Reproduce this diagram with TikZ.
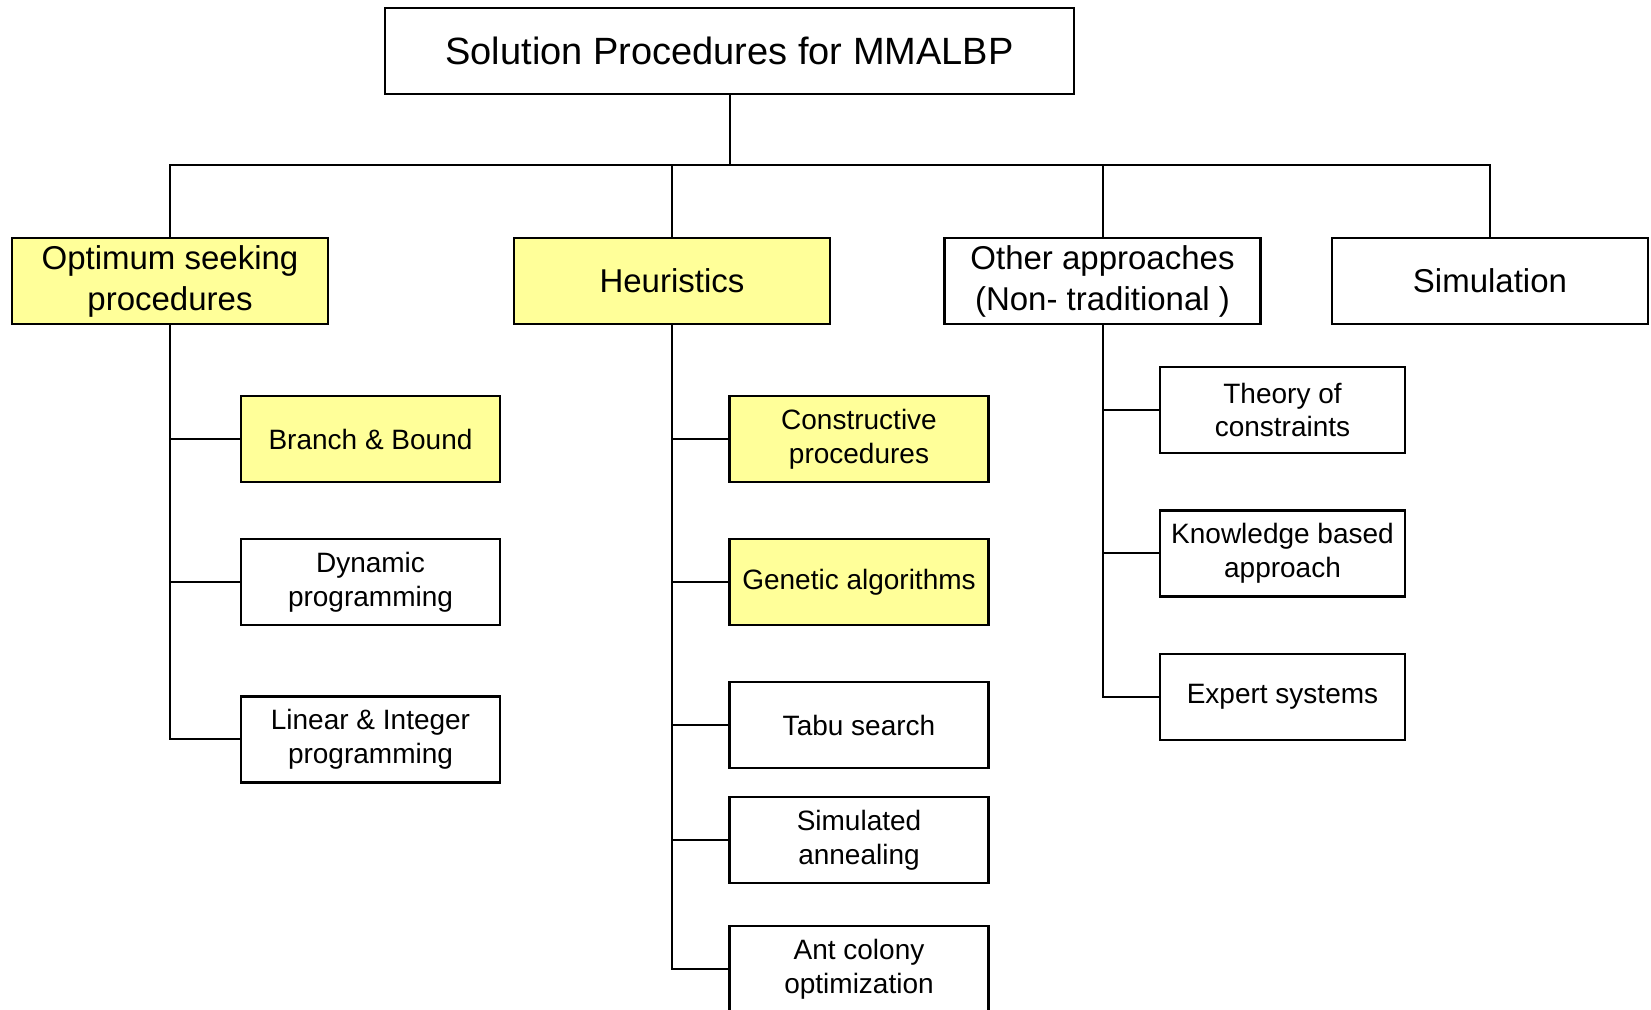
\documentclass[tikz,border=0pt]{standalone}
\usepackage{fontspec}
\setmainfont{Liberation Sans}
\definecolor{boxyellow}{RGB}{255,255,153}
\begin{document}
\begin{tikzpicture}[x=0.5pt,y=-0.5pt,
  box/.style={draw=black,line width=1.1pt,fill=white,rectangle,inner sep=0pt,align=center,text=black},
  rootbox/.style={box,minimum width=344.5pt,minimum height=43pt,font=\fontsize{19}{23}\selectfont},
  topbox/.style={box,minimum width=158pt,minimum height=43pt,font=\fontsize{16.5}{20.5}\selectfont},
  subbox/.style={box,minimum width=129.5pt,minimum height=43pt,font=\fontsize{14}{16.9}\selectfont},
  othbox/.style={box,minimum width=122.5pt,minimum height=43pt,font=\fontsize{14}{16.9}\selectfont},
  hl/.style={fill=boxyellow},
  link/.style={draw=black,line width=1pt}]
\useasboundingbox (0,0) rectangle (1651,1010);
\clip (0,0) rectangle (1651,1010);
\fill[white] (0,0) rectangle (1651,1010);

% root
\node[rootbox] (root) at (729.5,51) {Solution Procedures for MMALBP};

% first level
\node[topbox,hl] (opt) at (170,281) {Optimum seeking\\procedures};
\node[topbox,hl] (heur) at (672,281) {Heuristics};
\node[topbox] (other) at (1102.5,281) {Other approaches\\(Non- traditional )};
\node[topbox] (sim) at (1490,281) {Simulation};

% optimum seeking procedures
\node[subbox,hl] (bb) at (370.5,439) {Branch \& Bound};
\node[subbox] (dp) at (370.5,582) {Dynamic\\programming};
\node[subbox] (lip) at (370.5,739.5) {Linear \& Integer\\programming};

% heuristics
\node[subbox,hl] (cp) at (859,439) {Constructive\\procedures};
\node[subbox,hl] (ga) at (859,582) {Genetic algorithms};
\node[subbox] (ts) at (859,725) {Tabu search};
\node[subbox] (sa) at (859,840) {Simulated\\annealing};
\node[subbox] (aco) at (859,969) {Ant colony\\optimization};

% other approaches
\node[othbox] (toc) at (1282.5,410) {Theory of\\constraints};
\node[othbox] (kba) at (1282.5,553.5) {Knowledge based\\approach};
\node[othbox] (es) at (1282.5,697) {Expert systems};

% bus below the root
\coordinate (bus) at (0,165.5);
\draw[link] (root.south) -- (root.south |- bus);
\draw[link] (opt.north) -- (opt.north |- bus) -- (sim.north |- bus) -- (sim.north);
\draw[link] (heur.north) -- (heur.north |- bus);
\draw[link] (other.north) -- (other.north |- bus);

% branches
\draw[link] (opt.south) |- (lip.west);
\draw[link] (opt.south |- bb.west) -- (bb.west);
\draw[link] (opt.south |- dp.west) -- (dp.west);

\draw[link] (heur.south) |- (aco.west);
\draw[link] (heur.south |- cp.west) -- (cp.west);
\draw[link] (heur.south |- ga.west) -- (ga.west);
\draw[link] (heur.south |- ts.west) -- (ts.west);
\draw[link] (heur.south |- sa.west) -- (sa.west);

\draw[link] (other.south) |- (es.west);
\draw[link] (other.south |- toc.west) -- (toc.west);
\draw[link] (other.south |- kba.west) -- (kba.west);
\end{tikzpicture}
\end{document}
